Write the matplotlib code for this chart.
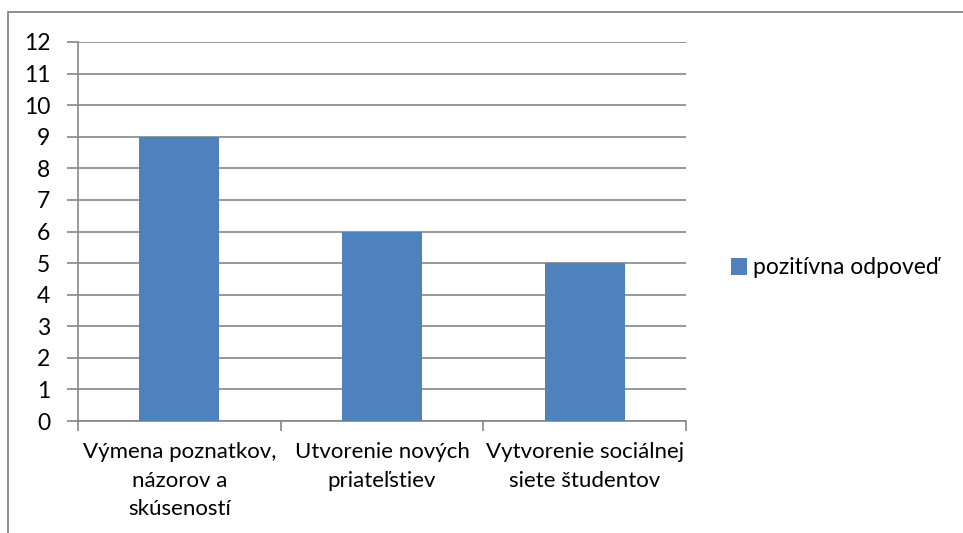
import matplotlib
matplotlib.use("Agg")
import matplotlib.pyplot as plt
from matplotlib.patches import Rectangle, Patch

categories = ["Výmena poznatkov,\nnázorov a\nskúseností",
              "Utvorenie nových\npriateľstiev",
              "Vytvorenie sociálnej\nsiete študentov"]
values = [9, 6, 5]
series_name = "pozitívna odpoveď"
yticks = list(range(0, 13))

plt.rcParams['font.family'] = ['Lato', 'DejaVu Sans']

W, H = 963, 533
fig = plt.figure(figsize=(W / 100, H / 100), dpi=100)
fig.patch.set_facecolor('white')

# outer chart-area border (cropped on right and bottom)
fig.add_artist(Rectangle((8 / W, -0.1), 1.2, 1 - 12 / H + 0.1, transform=fig.transFigure,
                         fill=False, edgecolor='#868686', linewidth=1.3))

ax = fig.add_axes([78 / W, 1 - 421 / H, (686 - 78) / W, (421 - 42) / H])
grid_c = '#868686'
x = list(range(len(categories)))
ax.bar(x, values, width=0.395, color='#4F81BD', zorder=3)
ax.set_xlim(-0.5, 2.5)
ax.set_ylim(0, 12)
ax.set_yticks(yticks)
ax.set_yticklabels([str(v) for v in yticks], fontsize=16.5)
ax.yaxis.grid(True, color=grid_c, linewidth=1.2, zorder=0)
ax.set_xticks([-0.5, 0.5, 1.5, 2.5])
ax.set_xticklabels([])
ax.set_xticks(x, minor=True)
ax.set_xticklabels(categories, minor=True, fontsize=16, linespacing=1.55)
ax.tick_params(axis='x', which='minor', length=0, pad=15)
ax.tick_params(axis='x', which='major', length=7, color=grid_c, width=1.2, direction='out')
ax.tick_params(axis='y', length=8, color=grid_c, width=1.2, direction='out', pad=12)
for s in ['top', 'right']:
    ax.spines[s].set_visible(False)
for s in ['left', 'bottom']:
    ax.spines[s].set_color(grid_c)
    ax.spines[s].set_linewidth(1.2)

leg = fig.legend(handles=[Patch(facecolor='#4F81BD', edgecolor='none', label=series_name)],
                 loc='center left', bbox_to_anchor=(731 / W, 1 - 268 / H), frameon=False,
                 fontsize=16.5, handlelength=0.7, handleheight=0.7, handletextpad=0.25,
                 borderpad=0, borderaxespad=0)

fig.savefig("out.png", dpi=100, facecolor='white')
